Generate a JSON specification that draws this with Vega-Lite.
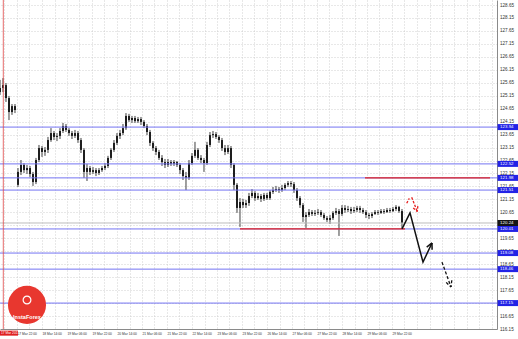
{
  "$schema": "https://vega.github.io/schema/vega-lite/v6.json",
  "width": 497,
  "height": 329,
  "autosize": {"type": "none"},
  "padding": {"left": 0, "top": 0, "right": 21, "bottom": 10},
  "background": "white",
  "config": {"view": {"stroke": null}, "font": "Liberation Sans"},
  "datasets": {
    "candles": [
      {"i":0,"o":125.29,"h":125.76,"l":125.18,"c":125.45},
      {"i":1,"o":125.45,"h":125.83,"l":125.29,"c":125.56},
      {"i":2,"o":125.56,"h":125.64,"l":124.91,"c":125.06},
      {"i":3,"o":125.06,"h":125.14,"l":124.21,"c":124.52},
      {"i":4,"o":124.52,"h":124.83,"l":124.41,"c":124.75},
      {"i":5,"o":124.75,"h":124.83,"l":124.48,"c":124.60},
      {"i":6,"o":121.71,"h":122.36,"l":121.63,"c":122.21},
      {"i":7,"o":122.21,"h":122.67,"l":122.09,"c":122.48},
      {"i":8,"o":122.48,"h":122.55,"l":122.17,"c":122.28},
      {"i":9,"o":122.28,"h":122.48,"l":122.13,"c":122.36},
      {"i":10,"o":122.36,"h":122.44,"l":122.01,"c":122.13},
      {"i":11,"o":122.13,"h":122.21,"l":121.67,"c":121.82},
      {"i":12,"o":121.82,"h":122.75,"l":121.74,"c":122.67},
      {"i":13,"o":122.67,"h":123.25,"l":122.59,"c":123.13},
      {"i":14,"o":123.13,"h":123.21,"l":122.79,"c":122.98},
      {"i":15,"o":122.98,"h":123.17,"l":122.83,"c":123.06},
      {"i":16,"o":123.06,"h":123.56,"l":122.94,"c":123.44},
      {"i":17,"o":123.44,"h":123.90,"l":123.37,"c":123.71},
      {"i":18,"o":123.71,"h":123.79,"l":123.44,"c":123.56},
      {"i":19,"o":123.56,"h":123.71,"l":123.40,"c":123.60},
      {"i":20,"o":123.60,"h":123.90,"l":123.48,"c":123.79},
      {"i":21,"o":123.79,"h":124.10,"l":123.71,"c":123.98},
      {"i":22,"o":123.98,"h":124.06,"l":123.75,"c":123.83},
      {"i":23,"o":123.83,"h":123.90,"l":123.60,"c":123.71},
      {"i":24,"o":123.71,"h":123.79,"l":123.48,"c":123.60},
      {"i":25,"o":123.60,"h":123.83,"l":123.52,"c":123.71},
      {"i":26,"o":123.71,"h":123.79,"l":123.33,"c":123.44},
      {"i":27,"o":123.44,"h":123.52,"l":122.94,"c":123.06},
      {"i":28,"o":123.06,"h":123.13,"l":121.98,"c":122.21},
      {"i":29,"o":122.21,"h":122.52,"l":121.86,"c":122.36},
      {"i":30,"o":122.36,"h":122.44,"l":122.09,"c":122.21},
      {"i":31,"o":122.21,"h":122.40,"l":122.13,"c":122.28},
      {"i":32,"o":122.28,"h":122.36,"l":122.05,"c":122.17},
      {"i":33,"o":122.17,"h":122.36,"l":122.09,"c":122.28},
      {"i":34,"o":122.28,"h":122.44,"l":122.21,"c":122.36},
      {"i":35,"o":122.36,"h":122.55,"l":122.28,"c":122.44},
      {"i":36,"o":122.44,"h":122.83,"l":122.36,"c":122.75},
      {"i":37,"o":122.75,"h":123.13,"l":122.67,"c":123.06},
      {"i":38,"o":123.06,"h":123.44,"l":122.98,"c":123.33},
      {"i":39,"o":123.33,"h":123.71,"l":123.25,"c":123.60},
      {"i":40,"o":123.60,"h":123.83,"l":123.48,"c":123.71},
      {"i":41,"o":123.71,"h":124.06,"l":123.63,"c":123.90},
      {"i":42,"o":123.90,"h":124.48,"l":123.83,"c":124.37},
      {"i":43,"o":124.37,"h":124.45,"l":124.14,"c":124.21},
      {"i":44,"o":124.21,"h":124.37,"l":124.10,"c":124.29},
      {"i":45,"o":124.29,"h":124.37,"l":124.10,"c":124.17},
      {"i":46,"o":124.17,"h":124.33,"l":124.10,"c":124.25},
      {"i":47,"o":124.25,"h":124.33,"l":124.02,"c":124.14},
      {"i":48,"o":124.14,"h":124.21,"l":123.90,"c":123.98},
      {"i":49,"o":123.98,"h":124.06,"l":123.63,"c":123.75},
      {"i":50,"o":123.75,"h":123.83,"l":123.21,"c":123.33},
      {"i":51,"o":123.33,"h":123.40,"l":123.02,"c":123.13},
      {"i":52,"o":123.13,"h":123.21,"l":122.86,"c":122.98},
      {"i":53,"o":122.98,"h":123.06,"l":122.67,"c":122.75},
      {"i":54,"o":122.75,"h":122.86,"l":122.44,"c":122.59},
      {"i":55,"o":122.59,"h":122.71,"l":122.36,"c":122.48},
      {"i":56,"o":122.48,"h":122.71,"l":122.40,"c":122.59},
      {"i":57,"o":122.59,"h":122.67,"l":122.44,"c":122.52},
      {"i":58,"o":122.52,"h":122.67,"l":122.44,"c":122.59},
      {"i":59,"o":122.59,"h":122.63,"l":122.40,"c":122.48},
      {"i":60,"o":122.48,"h":122.55,"l":122.13,"c":122.28},
      {"i":61,"o":122.28,"h":122.36,"l":121.90,"c":122.05},
      {"i":62,"o":122.05,"h":122.21,"l":121.51,"c":121.98},
      {"i":63,"o":121.98,"h":122.67,"l":121.90,"c":122.55},
      {"i":64,"o":122.55,"h":122.94,"l":122.48,"c":122.83},
      {"i":65,"o":122.83,"h":123.37,"l":122.75,"c":123.06},
      {"i":66,"o":123.06,"h":123.13,"l":122.67,"c":122.75},
      {"i":67,"o":122.75,"h":122.86,"l":122.55,"c":122.67},
      {"i":68,"o":122.67,"h":122.75,"l":122.21,"c":122.55},
      {"i":69,"o":122.55,"h":123.37,"l":122.48,"c":123.25},
      {"i":70,"o":123.25,"h":123.75,"l":123.17,"c":123.63},
      {"i":71,"o":123.63,"h":123.79,"l":123.52,"c":123.67},
      {"i":72,"o":123.67,"h":123.75,"l":123.48,"c":123.56},
      {"i":73,"o":123.56,"h":123.63,"l":123.33,"c":123.44},
      {"i":74,"o":123.44,"h":123.52,"l":123.02,"c":123.13},
      {"i":75,"o":123.13,"h":123.25,"l":122.86,"c":122.98},
      {"i":76,"o":122.98,"h":123.25,"l":122.90,"c":123.13},
      {"i":77,"o":123.13,"h":123.21,"l":122.36,"c":122.48},
      {"i":78,"o":122.48,"h":122.55,"l":121.51,"c":121.71},
      {"i":79,"o":121.71,"h":121.78,"l":120.63,"c":120.82},
      {"i":80,"o":120.82,"h":121.20,"l":120.09,"c":121.05},
      {"i":81,"o":121.05,"h":121.17,"l":120.82,"c":120.93},
      {"i":82,"o":120.93,"h":121.13,"l":120.82,"c":121.01},
      {"i":83,"o":121.01,"h":121.40,"l":120.90,"c":121.28},
      {"i":84,"o":121.28,"h":121.55,"l":121.20,"c":121.40},
      {"i":85,"o":121.40,"h":121.47,"l":121.09,"c":121.20},
      {"i":86,"o":121.20,"h":121.40,"l":121.13,"c":121.28},
      {"i":87,"o":121.28,"h":121.36,"l":121.05,"c":121.17},
      {"i":88,"o":121.17,"h":121.40,"l":121.09,"c":121.32},
      {"i":89,"o":121.32,"h":121.40,"l":121.13,"c":121.20},
      {"i":90,"o":121.20,"h":121.51,"l":121.13,"c":121.44},
      {"i":91,"o":121.44,"h":121.63,"l":121.36,"c":121.51},
      {"i":92,"o":121.51,"h":121.67,"l":121.44,"c":121.55},
      {"i":93,"o":121.55,"h":121.63,"l":121.40,"c":121.51},
      {"i":94,"o":121.51,"h":121.71,"l":121.44,"c":121.59},
      {"i":95,"o":121.59,"h":121.78,"l":121.51,"c":121.71},
      {"i":96,"o":121.71,"h":121.86,"l":121.63,"c":121.78},
      {"i":97,"o":121.78,"h":121.86,"l":121.63,"c":121.74},
      {"i":98,"o":121.74,"h":121.82,"l":121.40,"c":121.51},
      {"i":99,"o":121.51,"h":121.59,"l":121.09,"c":121.20},
      {"i":100,"o":121.20,"h":121.28,"l":120.82,"c":120.93},
      {"i":101,"o":120.93,"h":121.01,"l":120.28,"c":120.47},
      {"i":102,"o":120.47,"h":120.66,"l":120.05,"c":120.55},
      {"i":103,"o":120.55,"h":120.78,"l":120.47,"c":120.66},
      {"i":104,"o":120.66,"h":120.74,"l":120.51,"c":120.59},
      {"i":105,"o":120.59,"h":120.74,"l":120.51,"c":120.63},
      {"i":106,"o":120.63,"h":120.78,"l":120.55,"c":120.66},
      {"i":107,"o":120.66,"h":120.74,"l":120.47,"c":120.55},
      {"i":108,"o":120.55,"h":120.63,"l":120.36,"c":120.43},
      {"i":109,"o":120.43,"h":120.51,"l":120.28,"c":120.36},
      {"i":110,"o":120.36,"h":120.55,"l":120.20,"c":120.43},
      {"i":111,"o":120.43,"h":120.70,"l":120.36,"c":120.63},
      {"i":112,"o":120.63,"h":120.82,"l":120.55,"c":120.70},
      {"i":113,"o":120.70,"h":120.78,"l":119.74,"c":120.59},
      {"i":114,"o":120.59,"h":120.93,"l":120.51,"c":120.82},
      {"i":115,"o":120.82,"h":120.93,"l":120.63,"c":120.74},
      {"i":116,"o":120.74,"h":120.90,"l":120.66,"c":120.78},
      {"i":117,"o":120.78,"h":120.86,"l":120.59,"c":120.70},
      {"i":118,"o":120.70,"h":120.86,"l":120.63,"c":120.74},
      {"i":119,"o":120.74,"h":120.90,"l":120.66,"c":120.82},
      {"i":120,"o":120.82,"h":120.90,"l":120.63,"c":120.74},
      {"i":121,"o":120.74,"h":120.82,"l":120.59,"c":120.66},
      {"i":122,"o":120.66,"h":120.74,"l":120.43,"c":120.55},
      {"i":123,"o":120.55,"h":120.63,"l":120.39,"c":120.51},
      {"i":124,"o":120.51,"h":120.66,"l":120.43,"c":120.59},
      {"i":125,"o":120.59,"h":120.74,"l":120.55,"c":120.66},
      {"i":126,"o":120.66,"h":120.74,"l":120.55,"c":120.63},
      {"i":127,"o":120.63,"h":120.78,"l":120.59,"c":120.70},
      {"i":128,"o":120.70,"h":120.78,"l":120.59,"c":120.66},
      {"i":129,"o":120.66,"h":120.82,"l":120.63,"c":120.74},
      {"i":130,"o":120.74,"h":120.82,"l":120.63,"c":120.70},
      {"i":131,"o":120.70,"h":120.86,"l":120.66,"c":120.78},
      {"i":132,"o":120.78,"h":120.93,"l":120.70,"c":120.86},
      {"i":133,"o":120.86,"h":120.90,"l":120.63,"c":120.70},
      {"i":134,"o":120.70,"h":120.78,"l":120.01,"c":120.24}
    ],
    "levels": [
      {"price":123.94},{"price":122.52},{"price":121.98},{"price":121.51},
      {"price":120.01},{"price":119.08},{"price":118.46},{"price":117.15}
    ],
    "bid": [{"price":120.24}],
    "tags": [
      {"price":123.94,"kind":"level"},{"price":122.52,"kind":"level"},{"price":121.98,"kind":"level"},
      {"price":121.51,"kind":"level"},{"price":120.01,"kind":"level"},{"price":119.08,"kind":"level"},
      {"price":118.46,"kind":"level"},{"price":117.15,"kind":"level"},{"price":120.24,"kind":"bid"}
    ],
    "redLevels": [
      {"price":120.01,"from":80,"to":135},
      {"price":121.98,"from":121.67,"to":163.33}
    ],
    "arrowMain": [
      {"seg":"path","ord":0,"i":134.0,"p":120.01},
      {"seg":"path","ord":1,"i":136.67,"p":120.63},
      {"seg":"path","ord":2,"i":141.0,"p":118.73},
      {"seg":"path","ord":3,"i":144.0,"p":119.47},
      {"seg":"w1","ord":0,"i":142.23,"p":119.31},
      {"seg":"w1","ord":1,"i":144.0,"p":119.47},
      {"seg":"w2","ord":0,"i":144.03,"p":119.21},
      {"seg":"w2","ord":1,"i":144.0,"p":119.47}
    ],
    "arrowDashed": [
      {"seg":"path","ord":0,"i":147.33,"p":118.73},
      {"seg":"path","ord":1,"i":150.33,"p":117.77},
      {"seg":"w1","ord":0,"i":148.73,"p":117.95},
      {"seg":"w1","ord":1,"i":150.33,"p":117.77},
      {"seg":"w2","ord":0,"i":150.6,"p":118.03},
      {"seg":"w2","ord":1,"i":150.33,"p":117.77}
    ],
    "arrowRed": [
      {"seg":"up","ord":0,"i":135.57,"p":121.0},
      {"seg":"up","ord":1,"i":136.43,"p":121.19},
      {"seg":"down","ord":0,"i":137.23,"p":121.23},
      {"seg":"down","ord":1,"i":139.1,"p":120.68},
      {"seg":"w1","ord":0,"i":137.73,"p":120.82},
      {"seg":"w1","ord":1,"i":139.1,"p":120.68},
      {"seg":"w2","ord":0,"i":139.27,"p":120.89},
      {"seg":"w2","ord":1,"i":139.1,"p":120.68}
    ],
    "brand": [{"name":"InstaForex"}],
    "stamp": [{"label":"17 Mar 2017"}]
  },
  "layer": [
    {
      "data": {"name": "candles"},
      "mark": {"type": "rule", "color": "#2a2a2a", "strokeWidth": 0.9},
      "encoding": {
        "x": {
          "field": "i", "type": "quantitative",
          "scale": {"domain": [0, 165.667], "nice": false, "zero": false},
          "axis": {
            "orient": "bottom", "title": null, "tickCount": 200,
            "values": [1.5,5.667,9.833,14,18.167,22.333,26.5,30.667,34.833,39,43.167,47.333,51.5,55.667,59.833,64,68.167,72.333,76.5,80.667,84.833,89,93.167,97.333,101.5,105.667,109.833,114,118.167,122.333,126.5,130.667,134.833,139,143.167,147.333,151.5,155.667,159.833,164],
            "labelExpr": "(round((datum.value-1.5)/4.16667)%2==1) ? ['17 Mar 22:00','18 Mar 14:00','19 Mar 06:00','19 Mar 22:00','20 Mar 14:00','21 Mar 06:00','21 Mar 22:00','22 Mar 14:00','23 Mar 06:00','23 Mar 22:00','26 Mar 14:00','27 Mar 06:00','27 Mar 22:00','28 Mar 14:00','29 Mar 06:00','29 Mar 22:00','','','',''][(round((datum.value-1.5)/4.16667)-1)/2] : ''",
            "grid": true, "gridColor": "#c4c4c4", "gridDash": [1, 2], "gridWidth": 0.8,
            "domainColor": "#8a8a8a", "domainWidth": 1,
            "ticks": false,
            "labelFontSize": 3.3, "labelColor": "#333333", "labelAlign": "left",
            "labelPadding": 2, "labelOverlap": false, "labelBound": false, "labelFlush": false
          }
        },
        "y": {
          "field": "l", "type": "quantitative",
          "scale": {"domain": [116.15, 128.843], "nice": false, "zero": false},
          "axis": {
            "orient": "right", "title": null, "tickCount": 200,
            "values": [116.15,116.65,117.15,117.65,118.15,118.65,119.15,119.65,120.15,120.65,121.15,121.65,122.15,122.65,123.15,123.65,124.15,124.65,125.15,125.65,126.15,126.65,127.15,127.65,128.15,128.65],
            "format": ".2f",
            "grid": true, "gridColor": "#c4c4c4", "gridDash": [1, 2], "gridWidth": 0.8,
            "domainColor": "#8a8a8a", "domainWidth": 1,
            "ticks": false,
            "labelFontSize": 4.6, "labelColor": "#333333", "labelPadding": 2.5,
            "labelOverlap": false, "labelBound": false, "labelFlush": false
          }
        },
        "y2": {"field": "h"}
      }
    },
    {
      "data": {"name": "candles"},
      "mark": {"type": "rule", "color": "#1e1e1e", "strokeWidth": 2, "strokeCap": "butt"},
      "encoding": {
        "x": {"field": "i", "type": "quantitative"},
        "y": {"field": "o", "type": "quantitative"},
        "y2": {"field": "c"}
      }
    },
    {
      "data": {"name": "levels"},
      "mark": {"type": "rule", "color": "#7474f2", "strokeWidth": 1},
      "encoding": {"y": {"field": "price", "type": "quantitative"}}
    },
    {
      "data": {"name": "bid"},
      "mark": {"type": "rule", "color": "#bdbdbd", "strokeWidth": 1},
      "encoding": {"y": {"field": "price", "type": "quantitative"}}
    },
    {
      "data": {"name": "redLevels"},
      "mark": {"type": "rule", "color": "#e02020", "strokeWidth": 1.3},
      "encoding": {
        "x": {"field": "from", "type": "quantitative"},
        "x2": {"field": "to"},
        "y": {"field": "price", "type": "quantitative"}
      }
    },
    {
      "data": {"name": "arrowMain"},
      "mark": {"type": "line", "color": "#111111", "strokeWidth": 1.5},
      "encoding": {
        "x": {"field": "i", "type": "quantitative"},
        "y": {"field": "p", "type": "quantitative"},
        "detail": {"field": "seg"},
        "order": {"field": "ord"}
      }
    },
    {
      "data": {"name": "arrowDashed"},
      "mark": {"type": "line", "color": "#111111", "strokeWidth": 1.3, "strokeDash": [3, 2]},
      "encoding": {
        "x": {"field": "i", "type": "quantitative"},
        "y": {"field": "p", "type": "quantitative"},
        "detail": {"field": "seg"},
        "order": {"field": "ord"}
      }
    },
    {
      "data": {"name": "arrowRed"},
      "mark": {"type": "line", "color": "#e52020", "strokeWidth": 1.3, "strokeDash": [2.5, 1.5]},
      "encoding": {
        "x": {"field": "i", "type": "quantitative"},
        "y": {"field": "p", "type": "quantitative"},
        "detail": {"field": "seg"},
        "order": {"field": "ord"}
      }
    },
    {
      "data": {"name": "tags"},
      "mark": {"type": "rule", "strokeWidth": 6, "strokeCap": "butt"},
      "encoding": {
        "x": {"datum": 165.85},
        "x2": {"datum": 172.7},
        "y": {"field": "price", "type": "quantitative"},
        "color": {"field": "kind", "type": "nominal", "scale": {"domain": ["level", "bid"], "range": ["#2222e6", "#151515"]}, "legend": null}
      }
    },
    {
      "data": {"name": "tags"},
      "mark": {"type": "text", "color": "white", "fontSize": 4.4, "align": "left", "baseline": "middle"},
      "encoding": {
        "x": {"datum": 166.7},
        "y": {"field": "price", "type": "quantitative"},
        "text": {"field": "price", "type": "quantitative", "format": ".2f"}
      }
    },
    {
      "data": {"name": "brand"},
      "mark": {"type": "rule", "color": "#e04848", "strokeWidth": 0.8},
      "encoding": {"x": {"datum": 1.1}}
    },
    {
      "data": {"name": "brand"},
      "mark": {"type": "point", "shape": "circle", "filled": true, "color": "#e8372f", "opacity": 1, "size": 1450},
      "encoding": {"x": {"datum": 9}, "y": {"datum": 117.08}}
    },
    {
      "data": {"name": "brand"},
      "mark": {"type": "point", "shape": "circle", "filled": false, "color": "white", "strokeWidth": 1.2, "opacity": 1, "size": 60},
      "encoding": {"x": {"datum": 9}, "y": {"datum": 117.27}}
    },
    {
      "data": {"name": "brand"},
      "mark": {"type": "text", "color": "white", "fontSize": 5.5, "fontWeight": "bold", "align": "center", "baseline": "middle"},
      "encoding": {"x": {"datum": 9}, "y": {"datum": 116.62}, "text": {"field": "name"}}
    },
    {
      "data": {"name": "stamp"},
      "mark": {"type": "rule", "color": "#e02020", "strokeWidth": 5, "strokeCap": "butt"},
      "encoding": {"x": {"datum": 0}, "x2": {"datum": 6}, "y": {"datum": 115.99}}
    },
    {
      "data": {"name": "stamp"},
      "mark": {"type": "text", "color": "white", "fontSize": 3.3, "align": "left", "baseline": "middle"},
      "encoding": {"x": {"datum": 0.3}, "y": {"datum": 115.99}, "text": {"field": "label"}}
    }
  ]
}
